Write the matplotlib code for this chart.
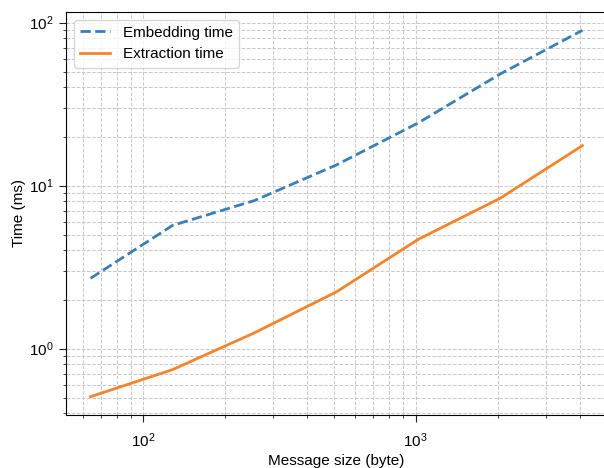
import matplotlib
matplotlib.use("Agg")
import matplotlib.pyplot as plt

plt.rcParams.update({"font.family": ["Liberation Sans", "DejaVu Sans"], "font.size": 11})

# message sizes (bytes) and timings (ms)
sizes = [64, 128, 256, 512, 1024, 2048, 4096]
embed_ms = [2.70, 5.7, 8.1, 13.4, 24.3, 48.5, 89.7]
extract_ms = [0.507, 0.743, 1.25, 2.23, 4.69, 8.38, 17.6]

W, H = 604, 468
fig = plt.figure(figsize=(W / 100, H / 100), dpi=100)
ax = fig.add_axes([66 / W, 1 - 415 / H, (607 - 66) / W, (415 - 12) / H])

ax.plot(sizes, embed_ms, "--", color="#3a7fb8", lw=2, label="Embedding time")
ax.plot(sizes, extract_ms, "-", color="#f5842a", lw=2, label="Extraction time")
ax.set_xscale("log")
ax.set_yscale("log")

ax.grid(True, which="both", ls="--", color="#c8c8c8", lw=0.7)
ax.set_axisbelow(True)
ax.tick_params(which="both", direction="out", color="#222222")
ax.tick_params(which="major", length=5)
ax.tick_params(axis="x", which="major", pad=7)
ax.tick_params(axis="y", which="major", pad=4)
ax.set_xlabel("Message size (byte)", labelpad=3)
ax.set_ylabel("Time (ms)", labelpad=2)
ax.legend(loc="upper left", fontsize=11)

fig.savefig("out.png", dpi=100)
